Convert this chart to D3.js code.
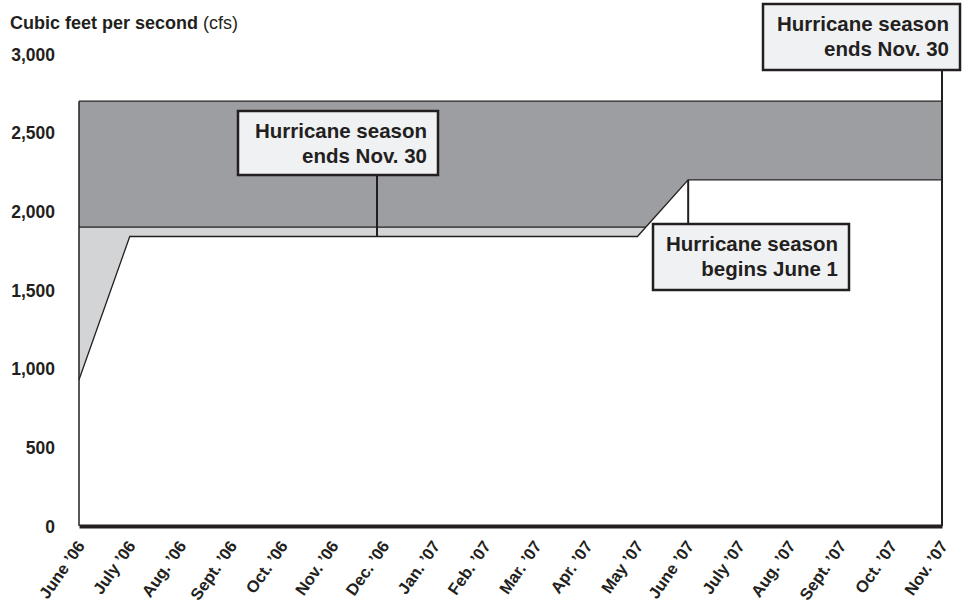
<!DOCTYPE html>
<html>
<head>
<meta charset="utf-8">
<script src="https://cdn.jsdelivr.net/npm/d3@7"></script>
<style>
  body { margin: 0; background: #fff; }
  svg { display: block; }
  text { font-family: "Liberation Sans", Arial, Helvetica, sans-serif; fill: #231f20; }
</style>
</head>
<body>
<svg id="chart" width="967" height="606"></svg>
<script>
// ---- data ----
const months = ["June \u201906", "July \u201906", "Aug. \u201906", "Sept. \u201906", "Oct. \u201906", "Nov. \u201906",
  "Dec. \u201906", "Jan. \u201907", "Feb. \u201907", "Mar. \u201907", "Apr. \u201907", "May \u201907",
  "June \u201907", "July \u201907", "Aug. \u201907", "Sept. \u201907", "Oct. \u201907", "Nov. \u201907"];
const flow = [930, 1840, 1840, 1840, 1840, 1840, 1840, 1840, 1840, 1840, 1840, 1840,
  2200, 2200, 2200, 2200, 2200, 2200];
const lowerBand = 1900;   // light gray band top
const upperBand = 2700;   // dark gray band top
const yTicks = [0, 500, 1000, 1500, 2000, 2500, 3000];
// annotations: month index (fractional) and text lines
const notes = [
  { at: 5.87, lines: ["Hurricane season", "ends Nov. 30"] },
  { at: 12, lines: ["Hurricane season", "begins June 1"] },
  { at: 17, lines: ["Hurricane season", "ends Nov. 30"] }
];

const svg = d3.select("#chart");
const dark = "#231f20";
const x = d3.scalePoint().domain(months).range([79, 942]);
const xi = d3.scaleLinear().domain([0, months.length - 1]).range([79, 942]);
const y = d3.scaleLinear().domain([0, 3000]).range([526, 54]);

const pts = flow.map((v, i) => [i, v]);

// dark band
svg.append("rect").attr("x", xi(0)).attr("y", y(upperBand))
  .attr("width", xi(17) - xi(0)).attr("height", y(0) - y(upperBand)).attr("fill", "#9d9ea2");
// light band
svg.append("rect").attr("x", xi(0)).attr("y", y(lowerBand))
  .attr("width", xi(17) - xi(0)).attr("height", y(0) - y(lowerBand)).attr("fill", "#d3d4d6");
svg.append("line").attr("x1", xi(0)).attr("x2", xi(17)).attr("y1", y(lowerBand)).attr("y2", y(lowerBand))
  .attr("stroke", dark).attr("stroke-width", 1.3);
// white area under flow
svg.append("path").datum(pts)
  .attr("d", d3.area().x(d => xi(d[0])).y0(y(0)).y1(d => y(d[1])))
  .attr("fill", "#fff");
svg.append("path").datum(pts)
  .attr("d", d3.line().x(d => xi(d[0])).y(d => y(d[1])))
  .attr("fill", "none").attr("stroke", dark).attr("stroke-width", 1.3);
// borders
svg.append("line").attr("x1", xi(0)).attr("x2", xi(17)).attr("y1", y(upperBand)).attr("y2", y(upperBand))
  .attr("stroke", dark).attr("stroke-width", 1.3);
svg.append("line").attr("x1", xi(0)).attr("x2", xi(0)).attr("y1", y(upperBand)).attr("y2", y(0))
  .attr("stroke", dark).attr("stroke-width", 1.5);

// y axis labels
const yAxis = d3.axisLeft(y).tickValues(yTicks).tickSize(0).tickPadding(24)
  .tickFormat(d3.format(","));
const gy = svg.append("g").attr("transform", `translate(${xi(0)},0)`).call(yAxis);
gy.select(".domain").remove();
gy.selectAll("text").attr("font-size", 17.5).attr("font-weight", "bold")
  .attr("font-family", "Liberation Sans, Arial, sans-serif").attr("fill", dark).attr("dy", "0.35em");

// x axis
const xAxis = d3.axisBottom(x).tickSize(0).tickPadding(0);
const gx = svg.append("g").attr("transform", `translate(0,${y(0)})`).call(xAxis);
gx.select(".domain").attr("stroke", dark).attr("stroke-width", 4);
gx.selectAll("text").attr("font-size", 16.5).attr("font-weight", "bold")
  .attr("font-family", "Liberation Sans, Arial, sans-serif").attr("fill", dark)
  .attr("text-anchor", "end").attr("dy", 0)
  .attr("transform", "translate(6,20) rotate(-55)");

// title
const t = svg.append("text").attr("x", 10).attr("y", 29).attr("font-size", 18);
t.append("tspan").attr("font-weight", "bold").text("Cubic feet per second ");
t.append("tspan").text("(cfs)");

// annotation boxes
const boxes = [
  { note: notes[0], x0: 238, y0: 111, w: 200, h: 64, lineTo: y(flow[6]) },
  { note: notes[1], x0: 653, y0: 224, w: 196, h: 66, lineTo: y(flow[12]) },
  { note: notes[2], x0: 763, y0: 4, w: 197, h: 66, lineTo: y(0) }
];
boxes.forEach(b => {
  const px = xi(b.note.at);
  if (b.lineTo < b.y0) {
    svg.append("line").attr("x1", px).attr("x2", px).attr("y1", b.lineTo).attr("y2", b.y0)
      .attr("stroke", dark).attr("stroke-width", 2);
  } else {
    svg.append("line").attr("x1", px).attr("x2", px).attr("y1", b.y0 + b.h).attr("y2", b.lineTo)
      .attr("stroke", dark).attr("stroke-width", 2);
  }
  svg.append("rect").attr("x", b.x0).attr("y", b.y0).attr("width", b.w).attr("height", b.h)
    .attr("fill", "#f0f1f3").attr("stroke", dark).attr("stroke-width", 2.5);
  b.note.lines.forEach((ln, i) => {
    svg.append("text").attr("x", b.x0 + b.w - 11).attr("y", b.y0 + 27 + i * 25)
      .attr("text-anchor", "end").attr("font-size", 20.5).attr("font-weight", "bold").text(ln);
  });
});
</script>
</body>
</html>
